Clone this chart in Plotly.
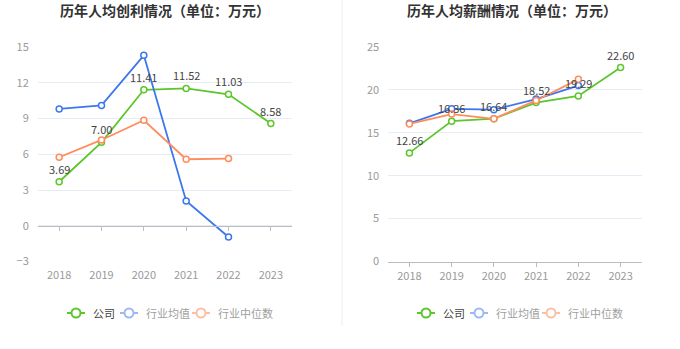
import plotly.graph_objects as go

# ---- data ----
years = ["2018", "2019", "2020", "2021", "2022", "2023"]

profit_company = [3.69, 7.00, 11.41, 11.52, 11.03, 8.58]
profit_ind_mean = [9.8, 10.1, 14.3, 2.08, -0.94, None]
profit_ind_median = [5.75, 7.2, 8.85, 5.58, 5.64, None]

salary_company = [12.66, 16.36, 16.64, 18.52, 19.29, 22.60]
salary_ind_mean = [16.1, 17.8, 17.7, 18.93, 20.5, None]
salary_ind_median = [16.04, 17.18, 16.63, 18.77, 21.23, None]

series_names = ["公司", "行业均值", "行业中位数"]
titles = ["历年人均创利情况（单位：万元）", "历年人均薪酬情况（单位：万元）"]

# ---- style ----
W, H = 680, 349
FONT = "Noto Sans CJK SC"
GREEN, BLUE, ORANGE = "#5cc62b", "#3d77ee", "#ff8c5c"
PALE = ["#5cc62b", "#9cb9f5", "#fcbfa6"]
LEGEND_TEXT = ["#444444", "#a0a0a0", "#a0a0a0"]
GRID = "#e7ebf4"
AXIS = "#bdbdbd"
TICK_TXT = "#9a9a9a"

def px_x(p):
    return p / W

def px_y(p):
    return 1 - p / H

Y_DOM = [px_y(261.5), px_y(47)]
X_DOM_L = [px_x(38), px_x(292)]
X_DOM_R = [px_x(388.3), px_x(641.7)]

fig = go.Figure()
annotations = []

def add_series(vals, color, xa, ya, name):
    fig.add_trace(go.Scatter(
        x=years, y=vals, name=name, mode="lines+markers",
        line=dict(color=color, width=1.8),
        marker=dict(symbol="circle", size=6, color="white",
                    line=dict(color=color, width=1.5)),
        xaxis=xa, yaxis=ya, showlegend=False, hoverinfo="skip",
        connectgaps=False,
    ))

def add_labels(vals, xa, ya):
    # value labels above each point (category index on the x axis)
    for i, v in enumerate(vals):
        annotations.append(dict(
            x=i, y=v, xref=xa, yref=ya, text=f"{v:.2f}", showarrow=False,
            yshift=13, xanchor="center", yanchor="middle",
            font=dict(family=FONT, size=11, color="#444444"),
        ))

# left panel
add_series(profit_company, GREEN, "x", "y", series_names[0])
add_series(profit_ind_mean, BLUE, "x", "y", series_names[1])
add_series(profit_ind_median, ORANGE, "x", "y", series_names[2])
add_labels(profit_company, "x", "y")

# right panel
add_series(salary_company, GREEN, "x2", "y2", series_names[0])
add_series(salary_ind_mean, BLUE, "x2", "y2", series_names[1])
add_series(salary_ind_median, ORANGE, "x2", "y2", series_names[2])
add_labels(salary_company, "x2", "y2")

L_RANGE = [-3, 15]
R_RANGE = [0, 25]
cat_range = [-0.5, len(years) - 0.5]

xcommon = dict(type="category", categoryorder="array", categoryarray=years,
               range=cat_range, showgrid=False, zeroline=False, automargin=False,
               tickfont=dict(family=FONT, size=11, color=TICK_TXT),
               fixedrange=True)
ycommon = dict(showgrid=True, gridcolor=GRID, gridwidth=1, zeroline=False,
               showline=False, ticks="outside", ticklen=6, tickcolor="rgba(0,0,0,0)",
               tickfont=dict(family=FONT, size=11, color=TICK_TXT),
               automargin=False, fixedrange=True)

# position of the zero baseline on the left panel
zero_pos = Y_DOM[0] + (0 - L_RANGE[0]) / (L_RANGE[1] - L_RANGE[0]) * (Y_DOM[1] - Y_DOM[0])

fig.update_layout(
    width=W, height=H,
    margin=dict(l=0, r=0, t=0, b=0, pad=0),
    paper_bgcolor="white", plot_bgcolor="white",
    font=dict(family=FONT),
    showlegend=False,
    xaxis=dict(**xcommon, domain=X_DOM_L, anchor="y", showline=False,
               ticks="outside", ticklen=3, tickcolor="rgba(0,0,0,0)"),
    yaxis=dict(**ycommon, domain=Y_DOM, anchor="x", range=L_RANGE, dtick=3, tick0=0),
    xaxis3=dict(type="category", categoryorder="array", categoryarray=years,
                range=cat_range, overlaying="x", anchor="free", position=zero_pos,
                showline=True, linecolor=AXIS, linewidth=1.2,
                ticks="outside", ticklen=4, tickcolor=AXIS, automargin=False,
                showticklabels=False, showgrid=False, zeroline=False,
                tickmode="array", tickvals=years, fixedrange=True),
    xaxis2=dict(**xcommon, domain=X_DOM_R, anchor="y2", showline=True,
                linecolor=AXIS, linewidth=1.2, ticks="outside", ticklen=4,
                tickcolor=AXIS),
    yaxis2=dict(**ycommon, domain=Y_DOM, anchor="x2", range=R_RANGE, dtick=5, tick0=0),
)

# invisible trace so the overlay axis is rendered
fig.add_trace(go.Scatter(x=years, y=[None] * len(years), xaxis="x3", yaxis="y",
                         showlegend=False, hoverinfo="skip", mode="lines"))

shapes = []

# panel titles
for t, cx in zip(titles, [165, 512]):
    annotations.append(dict(text=f"<b>{t}</b>", x=px_x(cx), y=px_y(10),
                            xref="paper", yref="paper", showarrow=False,
                            xanchor="center", yanchor="middle",
                            font=dict(family=FONT, size=14, color="#333333")))

# divider between panels
shapes.append(dict(type="line", xref="paper", yref="paper",
                   x0=px_x(342), x1=px_x(342), y0=1, y1=px_y(326),
                   line=dict(color="#eeeeee", width=1)))

# legends (one per panel)
LEG_Y = 313
for offset in [0, 350]:
    starts = [67, 120, 192]
    for i, name in enumerate(series_names):
        x0 = starts[i] + offset
        shapes.append(dict(type="line", xref="paper", yref="paper",
                           x0=px_x(x0), x1=px_x(x0 + 18), y0=px_y(LEG_Y), y1=px_y(LEG_Y),
                           line=dict(color=PALE[i], width=2)))
        shapes.append(dict(type="circle", xref="paper", yref="paper",
                           x0=px_x(x0 + 4.5), x1=px_x(x0 + 13.5),
                           y0=px_y(LEG_Y - 4.5), y1=px_y(LEG_Y + 4.5),
                           fillcolor="white", line=dict(color=PALE[i], width=2)))
        annotations.append(dict(text=name, x=px_x(x0 + 24), y=px_y(LEG_Y),
                                xref="paper", yref="paper", showarrow=False,
                                xanchor="left", yanchor="middle",
                                font=dict(family=FONT, size=11, color=LEGEND_TEXT[i])))

fig.update_layout(shapes=shapes, annotations=annotations)

fig.write_html("out.html")
